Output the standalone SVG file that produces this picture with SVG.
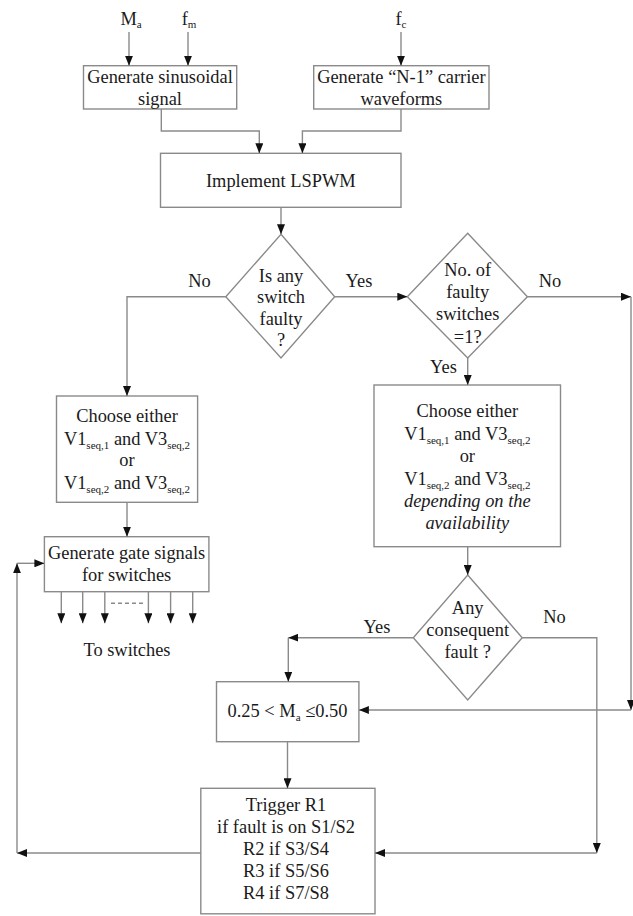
<svg xmlns="http://www.w3.org/2000/svg" width="633" height="916" viewBox="0 0 633 916">
<defs>
<marker id="ah" markerUnits="userSpaceOnUse" markerWidth="10" markerHeight="8" refX="10" refY="4" orient="auto">
<path d="M0,0 L10,4 L0,8 z" fill="#111"/>
</marker>
<style>
.box{fill:#fff;stroke:#8a8a8a;stroke-width:1.4}
.ln{fill:none;stroke:#8a8a8a;stroke-width:1.4}
.ar{fill:none;stroke:#8a8a8a;stroke-width:1.4;marker-end:url(#ah)}
text{font-size:18.4px;fill:#1a1a1a;text-anchor:middle}
.sub{font-size:11px}
.it{font-style:italic}
</style>
</defs>
<rect width="633" height="916" fill="#fff"/>
<g font-family="'Liberation Serif', 'Times New Roman', serif">

<g id="inputs">
<text x="131" y="25">M<tspan class="sub" dy="3">a</tspan></text>
<text x="189" y="25">f<tspan class="sub" dy="3">m</tspan></text>
<text x="401" y="25">f<tspan class="sub" dy="3">c</tspan></text>
</g>

<g id="sinusoidal">
<rect class="box" x="83.5" y="65.7" width="153.2" height="43.3"/>
<text x="160" y="83">Generate sinusoidal</text>
<text x="160" y="105">signal</text>
</g>

<g id="carrier">
<rect class="box" x="313.7" y="65.7" width="175.3" height="43.3"/>
<text x="401.4" y="83">Generate “N-1” carrier</text>
<text x="401.4" y="105">waveforms</text>
</g>

<g id="lspwm">
<rect class="box" x="160.5" y="153.3" width="240.5" height="54"/>
<text x="280.8" y="186.5">Implement LSPWM</text>
</g>

<g id="faulty">
<polygon class="box" points="281,234.3 334.7,296.7 281,358 225.8,296.7"/>
<text x="281" y="281.5">Is any</text>
<text x="281" y="303">switch</text>
<text x="281" y="324.7">faulty</text>
<text x="281" y="346.4">?</text>
</g>

<g id="count">
<polygon class="box" points="467.7,233.3 527.4,296.7 467.7,358 407.3,296.7"/>
<text x="467.7" y="276">No. of</text>
<text x="467.7" y="298">faulty</text>
<text x="467.7" y="320">switches</text>
<text x="467.7" y="342.5">=1?</text>
</g>

<g id="chooseLeft">
<rect class="box" x="56.5" y="396" width="141.1" height="106.3"/>
<text x="127" y="421.7">Choose either</text>
<text x="127" y="444.5">V1<tspan class="sub" dy="4">seq,1</tspan><tspan dy="-4"> and V3</tspan><tspan class="sub" dy="4">seq,2</tspan></text>
<text x="127" y="466">or</text>
<text x="127" y="489">V1<tspan class="sub" dy="4">seq,2</tspan><tspan dy="-4"> and V3</tspan><tspan class="sub" dy="4">seq,2</tspan></text>
</g>

<g id="chooseRight">
<rect class="box" x="374" y="385" width="186.5" height="161.7"/>
<text x="467.3" y="416.5">Choose either</text>
<text x="467.3" y="439.5">V1<tspan class="sub" dy="4">seq,1</tspan><tspan dy="-4"> and V3</tspan><tspan class="sub" dy="4">seq,2</tspan></text>
<text x="467.3" y="461.5">or</text>
<text x="467.3" y="484.5">V1<tspan class="sub" dy="4">seq,2</tspan><tspan dy="-4"> and V3</tspan><tspan class="sub" dy="4">seq,2</tspan></text>
<text class="it" x="467.3" y="506.5">depending on the</text>
<text class="it" x="467.3" y="528.5">availability</text>
</g>

<g id="gate">
<rect class="box" x="44.4" y="536.7" width="164.5" height="55"/>
<text x="126.6" y="559.3">Generate gate signals</text>
<text x="126.6" y="580.7">for switches</text>
</g>

<g id="toSwitches">
<text x="127" y="656">To switches</text>
</g>

<g id="consequent">
<polygon class="box" points="467.7,575 522.2,637.7 467.7,700 413.3,637.7"/>
<text x="467.7" y="614">Any</text>
<text x="467.7" y="636">consequent</text>
<text x="467.7" y="658">fault ?</text>
</g>

<g id="range">
<rect class="box" x="216.5" y="681.7" width="142.4" height="60"/>
<text x="287.5" y="717.3">0.25 &lt; M<tspan class="sub" dy="4">a</tspan><tspan dy="-4"> ≤0.50</tspan></text>
</g>

<g id="trigger">
<rect class="box" x="200.8" y="788.3" width="174.2" height="125.5"/>
<text x="286" y="810.5">Trigger R1</text>
<text x="286" y="832.7">if fault is on S1/S2</text>
<text x="286" y="854.9">R2 if S3/S4</text>
<text x="286" y="877.1">R3 if S5/S6</text>
<text x="286" y="899.3">R4 if S7/S8</text>
</g>

<g id="connectors">
<path class="ar" d="M129,32 V65.7"/>
<path class="ar" d="M188,32 V65.7"/>
<path class="ar" d="M401,32 V65.7"/>
<path class="ar" d="M161.3,109 V131 H259.3 V153.3"/>
<path class="ar" d="M401,109 V131 H302.4 V153.3"/>
<path class="ar" d="M281,207.3 V234.3"/>
<path class="ar" d="M225.8,296.7 H127 V396"/>
<path class="ar" d="M334.7,296.7 H407.3"/>
<path class="ar" d="M527.4,296.7 H631"/>
<path class="ar" d="M631,296.7 V710"/>
<path class="ar" d="M631,710 H358.9"/>
<path class="ar" d="M467.7,358 V385"/>
<path class="ar" d="M127,502.3 V536.7"/>
<path class="ar" d="M467.7,546.7 V575"/>
<path class="ar" d="M61.3,591.7 V623.3"/>
<path class="ar" d="M82.7,591.7 V623.3"/>
<path class="ar" d="M104.8,591.7 V623.3"/>
<path class="ar" d="M148.4,591.7 V623.3"/>
<path class="ar" d="M170.6,591.7 V623.3"/>
<path class="ar" d="M192.7,591.7 V623.3"/>
<path class="ln" d="M111,603.3 H145" stroke-dasharray="4,3"/>
<path class="ar" d="M413.3,637.7 H288.3"/>
<path class="ar" d="M288.3,637.7 V681.7"/>
<path class="ar" d="M522.2,637.7 H596.8 V853"/>
<path class="ar" d="M596.8,853 H375"/>
<path class="ar" d="M287.5,741.7 V788.3"/>
<path class="ar" d="M200.8,853 H17"/>
<path class="ar" d="M17,853 V563.3"/>
<path class="ar" d="M17,563.3 H44.4"/>
<text x="199.6" y="287">No</text>
<text x="359" y="287">Yes</text>
<text x="550" y="287">No</text>
<text x="443.5" y="372.5">Yes</text>
<text x="377" y="633.3">Yes</text>
<text x="554.4" y="623.3">No</text>
</g>
</g>
</svg>
